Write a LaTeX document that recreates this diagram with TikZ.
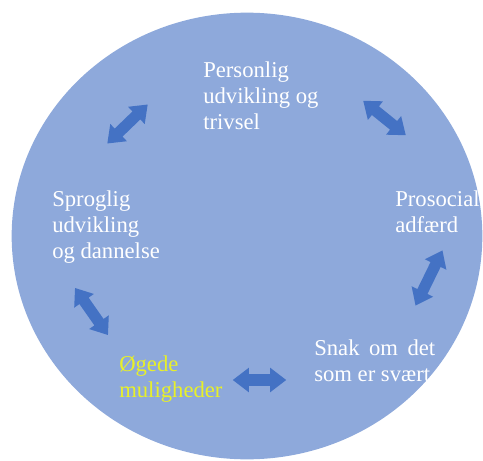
\documentclass[tikz,border=0pt]{standalone}
\usepackage{fontspec}
\setmainfont{Liberation Serif}
\usetikzlibrary{shapes.arrows}
\definecolor{discfill}{HTML}{8EA9DB}
\definecolor{arrowblue}{HTML}{4472C4}
\definecolor{lbyellow}{RGB}{232,240,40}
\tikzset{
  label/.style={anchor=north west, align=left, inner sep=0pt, text=white,
    font=\fontsize{17}{19.5}\selectfont},
  dblarrow/.style={double arrow, fill=arrowblue, draw=none, inner xsep=0pt,
    inner ysep=4pt, minimum height=42pt, double arrow head extend=4.8pt,
    double arrow tip angle=75},
}
\begin{document}
\begin{tikzpicture}[x=0.75pt,y=-0.75pt]
\useasboundingbox (0,0) rectangle (483,461);
\clip (0,0) rectangle (483,461);
\fill[discfill] (247,236) ellipse [x radius=176.5pt, y radius=167.5pt];
% labels (top-left corners)
\node[label] (pers) at (203,62) {Personlig\\udvikling og\\trivsel};
\node[label] (pros) at (395,191) {Prosocial\\adfærd};
\node[label] (spro) at (52,191) {Sproglig\\udvikling\\og dannelse};
\node[label, text=lbyellow] (oged) at (119,356) {Øgede\\muligheder};
\node[label] (snak) at (314,340) {Snak\hspace{0.42em}om\hspace{0.42em}det\\som er svært};
% double arrows
\node[dblarrow, rotate=44] (a1) at (127.5,124) {};
\node[dblarrow, rotate=-39, minimum height=41pt] (a2) at (384.5,118) {};
\node[dblarrow, rotate=64, minimum height=46pt] (a3) at (429,278) {};
\node[dblarrow, rotate=-55, minimum height=43pt] (a4) at (91.5,311.5) {};
\node[dblarrow, rotate=0, inner ysep=4.2pt, minimum height=40pt] (a5) at (259.5,380) {};
\end{tikzpicture}
\end{document}
